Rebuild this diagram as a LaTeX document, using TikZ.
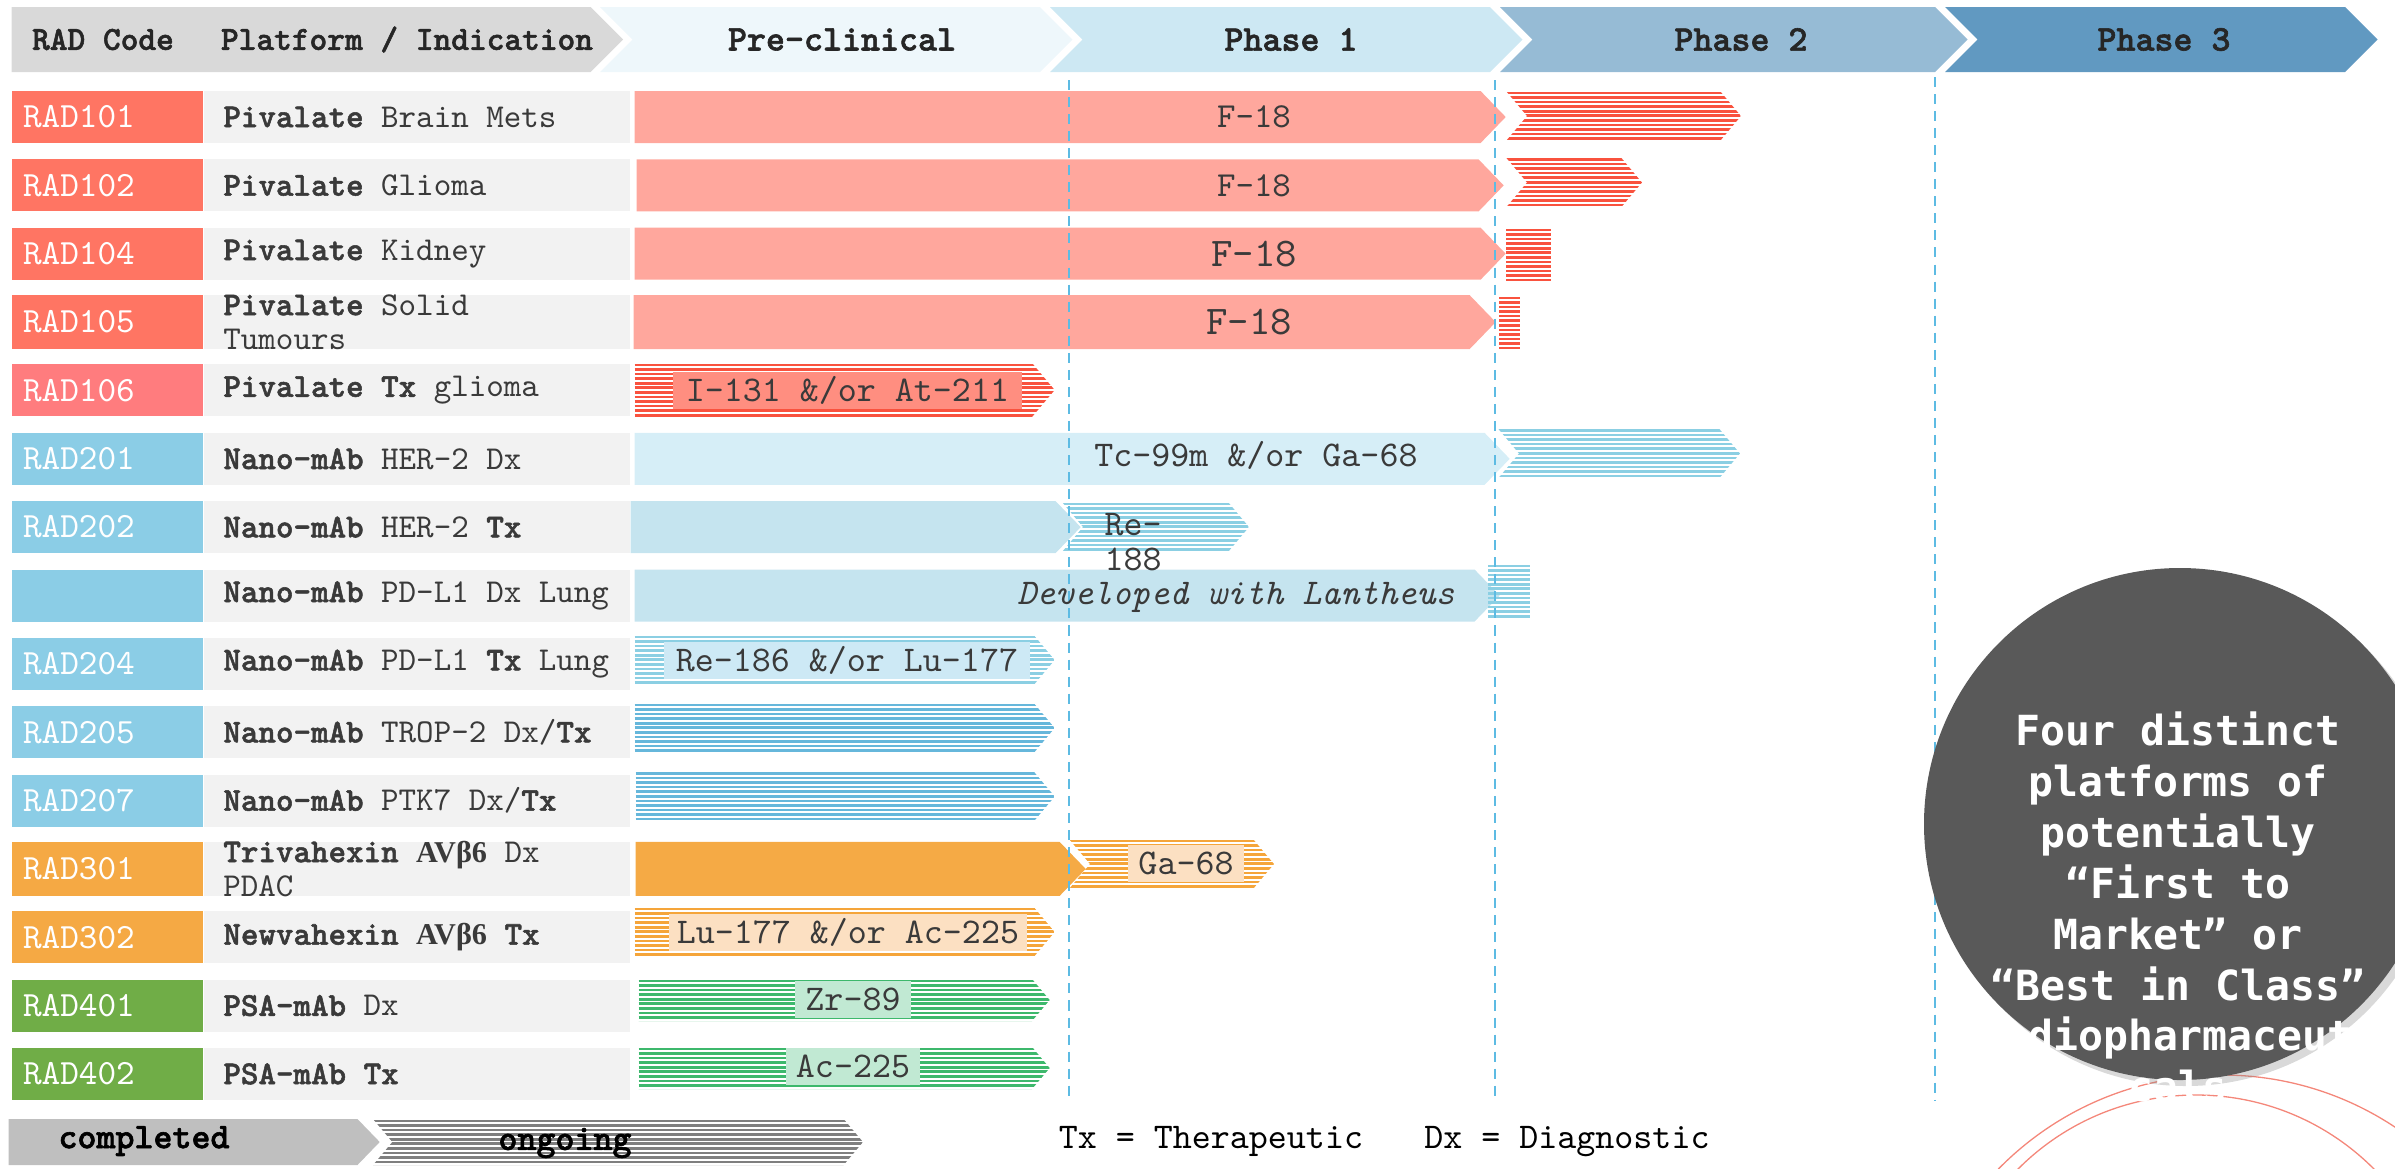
\documentclass[tikz,border=0pt]{standalone}
\usepackage{fontspec}
\setmonofont{lmmono10-regular.otf}[BoldFont=lmmonolt10-bold.otf,
    BoldFeatures={FakeBold=1.6}, ItalicFont=lmmono10-italic.otf]
\newfontfamily\badgefont{DejaVu Sans Mono}
\newfontfamily\betafont{Liberation Serif}
\usepackage{tikz}
\usetikzlibrary{positioning,shapes.symbols,shadows}
\definecolor{hdrgray}{HTML}{D9D9D9}
\definecolor{preclin}{HTML}{EEF7FB}
\definecolor{phaseone}{HTML}{CDE8F3}
\definecolor{phasetwo}{HTML}{96BBD5}
\definecolor{phasethree}{HTML}{6199C1}
\definecolor{hdrink}{HTML}{262626}
\definecolor{textgray}{HTML}{3A3A3A}
\definecolor{platgray}{HTML}{F2F2F2}
\definecolor{pivred}{HTML}{FF7563}
\definecolor{pivpink}{HTML}{FF7C7E}
\definecolor{nanoblue}{HTML}{8BCDE6}
\definecolor{hexorange}{HTML}{F5A944}
\definecolor{psagreen}{HTML}{70AD47}
\definecolor{pivdone}{HTML}{FFA79D}
\definecolor{pivhatch}{HTML}{F9523E}
\definecolor{nanodoneA}{HTML}{D6EEF7}
\definecolor{nanodoneB}{HTML}{C5E4EF}
\definecolor{nanohatchA}{HTML}{8BCFE3}
\definecolor{nanohatchB}{HTML}{66B7DB}
\definecolor{hexdone}{HTML}{F5AA45}
\definecolor{hexhatch}{HTML}{F5A53A}
\definecolor{psahatch}{HTML}{3DB86C}
\definecolor{lblred}{HTML}{FF8E80}
\definecolor{lblblue}{HTML}{CDE9F5}
\definecolor{lblorange}{HTML}{FCE0C2}
\definecolor{lblgreen}{HTML}{C1E9D3}
\definecolor{donegray}{HTML}{BFBFBF}
\definecolor{hatchgray}{HTML}{7F7F7F}
\definecolor{gridblue}{HTML}{5DBBE3}
\definecolor{circgray}{HTML}{595959}
\definecolor{arcred}{HTML}{F4877A}

\begin{document}
\begin{tikzpicture}[
    codebox/.style={rectangle, text width=1.69cm, align=left, inner xsep=0.11cm,
                    inner ysep=0pt, minimum height=0.52cm, text=white,
                    font=\fontsize{10.1}{11}\selectfont\ttfamily},
    platbox/.style={rectangle, fill=platgray, minimum width=4.255cm,
                    minimum height=0.52cm, inner sep=0pt, anchor=west},
    plattext/.style={anchor=west, align=left, inner sep=0pt, text=textgray,
                     font=\fontsize{9.5}{9.8}\selectfont\ttfamily},
    hdrbox/.style={shape=signal, signal to=east, signal pointer angle=90,
                   minimum height=0.65cm, inner sep=0pt},
    hdrtext/.style={font=\fontsize{10.3}{11}\selectfont\ttfamily\bfseries,
                    text=hdrink},
    donebar/.style={shape=signal, signal to=east, signal pointer angle=92,
                    minimum height=0.52cm, inner sep=0pt},
    ongobar/.style={shape=signal, signal to=east, signal pointer angle=100,
                    minimum height=0.5cm, inner sep=0pt},
    stubbar/.style={rectangle, minimum height=0.52cm, inner sep=0pt},
    hatch/.style={path picture={
        \foreach \k in {0,...,14}
          \draw[#1, line width=0.75pt]
            ([yshift={-0.55pt-1.3pt*\k}]path picture bounding box.north west) --
            ([yshift={-0.55pt-1.3pt*\k}]path picture bounding box.north east);}},
    isotope/.style={inner sep=0pt, text=textgray,
                    font=\fontsize{10.3}{11}\selectfont\ttfamily},
    lbox/.style={isotope, minimum height=0.37cm},
    gridline/.style={gridblue, line width=0.57pt,
                     dash pattern=on 2.85pt off 2pt},
    ring/.style={circle, draw=arcred, line width=0.37pt, inner sep=0pt},
]
\useasboundingbox (0,0) rectangle (23.95,-11.68);

% Header chevrons
\node[hdrbox, fill=hdrgray, minimum width=6.115cm, anchor=west] (hdr) at (0.11,-0.395) {};
\node[hdrtext, font=\fontsize{9.6}{11}\selectfont\ttfamily\bfseries] (hcode)
    at (1.03,-0.395) {RAD Code};
\node[hdrtext, font=\fontsize{9.6}{11}\selectfont\ttfamily\bfseries] (hplat)
    at (4.07,-0.395) {Platform / Indication};
\node[hdrbox, signal from=west, fill=preclin, minimum width=4.725cm]
    (pre) at (8.3625,-0.395) {};
\node[hdrtext] (hpre) at (8.42,-0.395) {Pre-clinical};
\node[hdrbox, signal from=west, fill=phaseone, minimum width=4.725cm]
    (ph1) at (12.8625,-0.395) {};
\node[hdrtext] (hph1) at (12.91,-0.395) {Phase 1};
\node[hdrbox, signal from=west, fill=phasetwo, minimum width=4.675cm]
    (ph2) at (17.3375,-0.395) {};
\node[hdrtext] (hph2) at (17.41,-0.395) {Phase 2};
\node[hdrbox, signal from=west, fill=phasethree, minimum width=4.325cm]
    (ph3) at (21.6125,-0.395) {};
\node[hdrtext] (hph3) at (21.64,-0.395) {Phase 3};

% Pivalate rows
\node[codebox, fill=pivred] (c101) at (1.075,-1.17) {RAD101};
\node[platbox] (p101) at (c101.east) {};
\node[plattext] (t101) at ([xshift=0.19cm]p101.west) {\textbf{Pivalate} Brain Mets};
\node[codebox, fill=pivred] (c102) at (1.075,-1.854) {RAD102};
\node[platbox] (p102) at (c102.east) {};
\node[plattext] (t102) at ([xshift=0.19cm]p102.west) {\textbf{Pivalate} Glioma};
\node[codebox, fill=pivred] (c104) at (1.075,-2.537) {RAD104};
\node[platbox] (p104) at (c104.east) {};
\node[plattext] (t104) at ([xshift=0.19cm]p104.west) {\textbf{Pivalate} Kidney};
\node[codebox, fill=pivred, minimum height=0.54cm] (c105) at (1.075,-3.221) {RAD105};
\node[platbox, minimum height=0.54cm] (p105) at (c105.east) {};
\node[plattext] (t105) at ([xshift=0.19cm]p105.west)
    {\textbf{Pivalate} Solid\\Tumours};
\node[codebox, fill=pivpink] (c106) at (1.075,-3.904) {RAD106};
\node[platbox] (p106) at (c106.east) {};
\node[plattext] (t106) at ([xshift=0.19cm]p106.west) {\textbf{Pivalate Tx} glioma};

% Nano-mAb rows
\node[codebox, fill=nanoblue] (c201) at (1.075,-4.588) {RAD201};
\node[platbox] (p201) at (c201.east) {};
\node[plattext] (t201) at ([xshift=0.19cm]p201.west) {\textbf{Nano-mAb} HER-2 Dx};
\node[codebox, fill=nanoblue] (c202) at (1.075,-5.271) {RAD202};
\node[platbox] (p202) at (c202.east) {};
\node[plattext] (t202) at ([xshift=0.19cm]p202.west) {\textbf{Nano-mAb} HER-2 \textbf{Tx}};
\node[codebox, fill=nanoblue] (cpdl) at (1.075,-5.955) {};
\node[platbox] (ppdl) at (cpdl.east) {};
\node[plattext] (tpdl) at ([xshift=0.19cm]ppdl.west) {\textbf{Nano-mAb} PD-L1 Dx Lung};
\node[codebox, fill=nanoblue] (c204) at (1.075,-6.638) {RAD204};
\node[platbox] (p204) at (c204.east) {};
\node[plattext] (t204) at ([xshift=0.19cm]p204.west)
    {\textbf{Nano-mAb} PD-L1 \textbf{Tx} Lung};
\node[codebox, fill=nanoblue] (c205) at (1.075,-7.322) {RAD205};
\node[platbox] (p205) at (c205.east) {};
\node[plattext] (t205) at ([xshift=0.19cm]p205.west)
    {\textbf{Nano-mAb} TROP-2 Dx/\textbf{Tx}};
\node[codebox, fill=nanoblue] (c207) at (1.075,-8.005) {RAD207};
\node[platbox] (p207) at (c207.east) {};
\node[plattext] (t207) at ([xshift=0.19cm]p207.west)
    {\textbf{Nano-mAb} PTK7 Dx/\textbf{Tx}};

% Hexin and PSA rows
\node[codebox, fill=hexorange, minimum height=0.54cm] (c301) at (1.075,-8.689) {RAD301};
\node[platbox, minimum height=0.54cm] (p301) at (c301.east) {};
\node[plattext] (t301) at ([xshift=0.19cm]p301.west)
    {\textbf{Trivahexin} {\betafont\bfseries\fontsize{8.6}{9.8}\selectfont AVβ6} Dx\\PDAC};
\node[codebox, fill=hexorange] (c302) at (1.075,-9.372) {RAD302};
\node[platbox] (p302) at (c302.east) {};
\node[plattext] (t302) at ([xshift=0.19cm]p302.west)
    {\textbf{Newvahexin} {\betafont\bfseries\fontsize{8.6}{9.8}\selectfont AVβ6} \textbf{Tx}};
\node[codebox, fill=psagreen] (c401) at (1.075,-10.056) {RAD401};
\node[platbox] (p401) at (c401.east) {};
\node[plattext] (t401) at ([xshift=0.19cm]p401.west) {\textbf{PSA-mAb} Dx};
\node[codebox, fill=psagreen] (c402) at (1.075,-10.739) {RAD402};
\node[platbox] (p402) at (c402.east) {};
\node[plattext] (t402) at ([xshift=0.19cm]p402.west) {\textbf{PSA-mAb Tx}};

% Completed bars
\node[donebar, fill=pivdone, minimum width=8.71cm, anchor=west] (s101) at (6.34,-1.17) {};
\node[donebar, fill=pivdone, minimum width=8.67cm, anchor=west] (s102) at (6.36,-1.854) {};
\node[donebar, fill=pivdone, minimum width=8.71cm, anchor=west] (s104) at (6.34,-2.537) {};
\node[donebar, fill=pivdone, minimum width=8.62cm, minimum height=0.54cm, anchor=west]
    (s105) at (6.33,-3.221) {};
\node[donebar, fill=nanodoneA, minimum width=8.75cm, anchor=west] (s201) at (6.34,-4.588) {};
\node[donebar, fill=nanodoneB, minimum width=4.50cm, anchor=west] (s202) at (6.30,-5.271) {};
\node[donebar, fill=nanodoneB, minimum width=8.65cm, anchor=west] (spdl) at (6.34,-5.955) {};
\node[donebar, fill=hexdone, minimum width=4.50cm, minimum height=0.54cm, anchor=west]
    (s301) at (6.35,-8.689) {};

% Ongoing bars
\node[ongobar, signal from=west, hatch=pivhatch, minimum width=2.35cm]
    (h101) at (16.235,-1.16) {};
\node[ongobar, signal from=west, hatch=pivhatch, minimum width=1.36cm]
    (h102) at (15.74,-1.825) {};
\node[stubbar, hatch=pivhatch, minimum width=0.45cm] (h104) at (15.285,-2.54) {};
\node[stubbar, hatch=pivhatch, minimum width=0.21cm, minimum height=0.53cm]
    (h105) at (15.095,-3.224) {};
\node[ongobar, hatch=pivhatch, minimum width=4.20cm, minimum height=0.54cm, anchor=west]
    (h106) at (6.34,-3.90) {};
\node[ongobar, signal from=west, hatch=nanohatchA, minimum width=2.42cm]
    (h201) at (16.19,-4.535) {};
\node[ongobar, signal from=west, hatch=nanohatchA, minimum width=1.87cm]
    (h202) at (11.555,-5.27) {};
\node[stubbar, hatch=nanohatchA, minimum width=0.42cm, minimum height=0.53cm]
    (hpdl) at (15.09,-5.905) {};
\node[ongobar, hatch=nanohatchA, minimum width=4.20cm, anchor=west] (h204) at (6.34,-6.60) {};
\node[ongobar, hatch=nanohatchB, minimum width=4.20cm, anchor=west] (h205) at (6.34,-7.28) {};
\node[ongobar, hatch=nanohatchB, minimum width=4.19cm, anchor=west] (h207) at (6.35,-7.965) {};
\node[ongobar, signal from=west, hatch=hexhatch, minimum width=2.05cm]
    (h301) at (11.715,-8.64) {};
\node[ongobar, hatch=hexhatch, minimum width=4.20cm, anchor=west] (h302) at (6.34,-9.32) {};
\node[ongobar, hatch=psahatch, minimum width=4.11cm, minimum height=0.42cm, anchor=west]
    (h401) at (6.38,-10.00) {};
\node[ongobar, hatch=psahatch, minimum width=4.11cm, minimum height=0.42cm, anchor=west]
    (h402) at (6.38,-10.68) {};

% Phase grid lines
\draw[gridline] (10.69,-0.80) -- (10.69,-11.00);
\draw[gridline] (14.95,-0.80) -- (14.95,-11.00);
\draw[gridline] (19.35,-0.77) -- (19.35,-11.00);

% Isotope labels
\node[isotope, font=\fontsize{10}{11}\selectfont\ttfamily] (i101) at (12.54,-1.17) {F-18};
\node[isotope, font=\fontsize{10}{11}\selectfont\ttfamily] (i102) at (12.54,-1.854) {F-18};
\node[isotope, font=\fontsize{11.6}{12}\selectfont\ttfamily] (i104) at (12.54,-2.54) {F-18};
\node[isotope, font=\fontsize{11.6}{12}\selectfont\ttfamily] (i105) at (12.49,-3.22) {F-18};
\node[lbox, fill=lblred, minimum width=3.49cm] (i106) at (8.475,-3.905)
    {I-131 \&/or At-211};
\node[isotope] (i201) at (12.56,-4.55) {Tc-99m \&/or Ga-68};
\node[isotope, anchor=west, align=left,
      font=\fontsize{10.3}{10}\selectfont\ttfamily] (i202) at (11.04,-5.42) {Re-\\188};
\node[isotope, font=\fontsize{10.3}{11}\selectfont\ttfamily\itshape] (ipdl)
    at (12.36,-5.975) {Developed with Lantheus};
\node[lbox, fill=lblblue, minimum width=3.66cm] (i204) at (8.47,-6.603)
    {Re-186 \&/or Lu-177};
\node[lbox, fill=lblorange, minimum width=1.16cm] (i301) at (11.86,-8.633) {Ga-68};
\node[lbox, fill=lblorange, minimum width=3.58cm] (i302) at (8.48,-9.323)
    {Lu-177 \&/or Ac-225};
\node[lbox, fill=lblgreen, minimum width=1.16cm] (i401) at (8.53,-9.99) {Zr-89};
\node[lbox, fill=lblgreen, minimum width=1.34cm] (i402) at (8.53,-10.665) {Ac-225};

% Legend
\node[donebar, fill=donegray, minimum width=3.71cm, minimum height=0.46cm, anchor=west]
    (lgdone) at (0.08,-11.42) {};
\node[ongobar, signal from=west, hatch=hatchgray, minimum width=4.90cm,
      minimum height=0.46cm] (lgongo) at (6.18,-11.42) {};
\node[hdrtext, text=black] (lgdonetxt) at (1.44,-11.41) {completed};
\node[hdrtext, text=black] (lgongotxt) at (5.65,-11.43) {ongoing};
\node[isotope, text=black] (txkey) at (12.11,-11.41) {Tx = Therapeutic};
\node[isotope, text=black] (dxkey) at (15.67,-11.42) {Dx = Diagnostic};

% Callout circle
\node[ring, minimum size=6.26cm] (ringout) at (22.22,-13.88) {};
\node[ring, minimum size=5.02cm] (ringin) at (21.96,-13.46) {};
\node[circle, fill=circgray, minimum size=5.12cm, inner sep=0pt,
      drop shadow={shadow xshift=0.06cm, shadow yshift=-0.06cm, opacity=0.3}]
    (badge) at (21.80,-8.24) {};
\node[align=center, text=white, inner sep=0pt,
      font=\fontsize{11.8}{14.5}\selectfont\badgefont\bfseries] (badgetxt)
    at (21.78,-9.07) {Four distinct\\platforms of\\potentially\\“First to\\Market” or\\“Best in Class”\\Radiopharmaceuti\\cals};

\end{tikzpicture}
\end{document}
